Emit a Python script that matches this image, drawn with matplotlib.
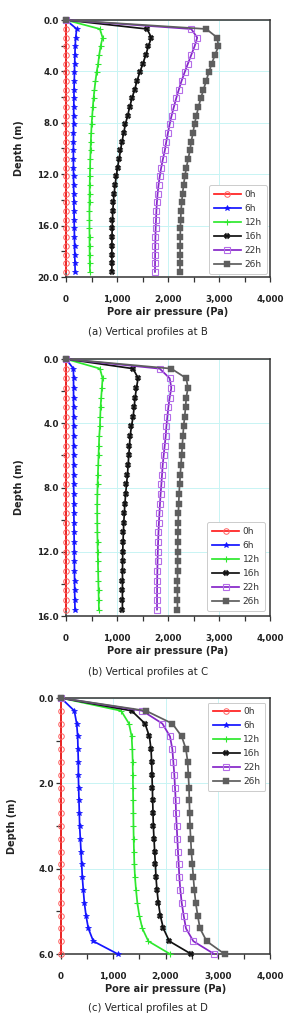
import matplotlib
matplotlib.use("Agg")
import matplotlib.pyplot as plt
from matplotlib.ticker import MultipleLocator, FuncFormatter

plt.rcParams['font.family'] = ['DejaVu Sans']

labels = ["0h", "6h", "12h", "16h", "22h", "26h"]
colors = ["#ff1e1e", "#1414ff", "#2ee82e", "#111111", "#8526c8", "#5e5e5e"]

# ---------- Panel (a): profiles at B ----------
depth_b = [0, 0.7, 1.37, 2.05, 2.72, 3.4, 4.07, 4.75, 5.42, 6.1, 6.77, 7.45, 8.12, 8.8, 9.47,
           10.15, 10.82, 11.5, 12.17, 12.85, 13.52, 14.2, 14.87, 15.55, 16.22, 16.9, 17.57,
           18.25, 18.92, 19.6]
b_0h = [0] * 30
b_6h = [0, 210, 190, 180, 175, 170, 166, 162, 158, 155, 152, 150, 148, 147, 146, 145, 145, 146,
        148, 150, 152, 155, 158, 160, 163, 166, 169, 172, 175, 180]
b_12h = [0, 665, 717, 678, 651, 630, 600, 578, 558, 540, 526, 514, 502, 494, 487, 481, 476, 472,
         468, 465, 463, 461, 460, 460, 460, 461, 462, 464, 466, 470]
b_16h = [0, 1590, 1674, 1616, 1563, 1508, 1446, 1392, 1345, 1293, 1248, 1208, 1165, 1130, 1098,
         1068, 1040, 1010, 985, 962, 943, 928, 918, 910, 905, 902, 900, 900, 900, 900]
b_22h = [0, 2456, 2573, 2521, 2456, 2390, 2326, 2265, 2212, 2160, 2115, 2070, 2032, 1998, 1966,
         1938, 1900, 1866, 1838, 1814, 1796, 1782, 1772, 1765, 1758, 1753, 1750, 1748, 1746, 1745]
b_26h = [0, 2750, 2964, 2990, 2920, 2858, 2800, 2748, 2695, 2643, 2598, 2555, 2520, 2488, 2456,
         2430, 2395, 2360, 2330, 2305, 2285, 2268, 2256, 2248, 2243, 2240, 2238, 2237, 2236, 2235]

# ---------- Panel (b): profiles at C ----------
depth_c = [0, 0.6, 1.2, 1.8, 2.4, 3.0, 3.6, 4.2, 4.8, 5.4, 6.0, 6.6, 7.2, 7.8, 8.4, 9.0, 9.6,
           10.2, 10.8, 11.4, 12.0, 12.6, 13.2, 13.8, 14.4, 15.0, 15.6]
c_0h = [0] * 27
c_6h = [0, 145, 148, 148, 148, 148, 148, 148, 148, 148, 148, 148, 149, 150, 152, 153, 155, 156,
        158, 160, 162, 164, 166, 168, 170, 173, 176]
c_12h = [0, 665, 717, 704, 690, 678, 671, 665, 652, 645, 638, 632, 625, 619, 615, 612, 612, 613,
         615, 618, 622, 626, 630, 634, 638, 642, 645]
c_16h = [0, 1316, 1414, 1381, 1355, 1336, 1316, 1283, 1257, 1244, 1231, 1218, 1205, 1186, 1170,
         1155, 1143, 1133, 1125, 1118, 1113, 1110, 1108, 1107, 1106, 1106, 1106]
c_22h = [0, 1837, 2033, 2065, 2033, 2007, 1987, 1968, 1955, 1935, 1915, 1896, 1883, 1870, 1855,
         1843, 1832, 1822, 1813, 1806, 1800, 1795, 1791, 1788, 1786, 1785, 1785]
c_26h = [0, 2065, 2358, 2391, 2358, 2345, 2326, 2306, 2293, 2280, 2267, 2254, 2241, 2228, 2218,
         2210, 2204, 2199, 2195, 2192, 2190, 2188, 2187, 2186, 2185, 2185, 2185]

# ---------- Panel (c): profiles at D ----------
depth_d = [0, 0.3, 0.6, 0.9, 1.2, 1.5, 1.8, 2.1, 2.4, 2.7, 3.0, 3.3, 3.6, 3.9, 4.2, 4.5, 4.8,
           5.1, 5.4, 5.7, 6.0]
d_0h = [0] * 21
d_6h = [0, 255, 300, 319, 325, 332, 332, 338, 344, 351, 357, 370, 383, 396, 408, 427, 447, 479,
        523, 619, 1085]
d_12h = [0, 1150, 1301, 1352, 1365, 1372, 1375, 1378, 1381, 1384, 1387, 1391, 1397, 1404, 1416,
         1436, 1461, 1499, 1557, 1672, 2086]
d_16h = [0, 1352, 1608, 1691, 1723, 1735, 1742, 1748, 1755, 1761, 1767, 1780, 1793, 1806, 1818,
         1837, 1863, 1901, 1959, 2074, 2490]
d_22h = [0, 1557, 1940, 2086, 2131, 2150, 2169, 2182, 2195, 2201, 2214, 2227, 2239, 2252, 2265,
         2284, 2310, 2348, 2392, 2533, 2930]
d_26h = [0, 1627, 2131, 2310, 2392, 2424, 2437, 2450, 2456, 2463, 2469, 2482, 2495, 2514, 2533,
         2552, 2578, 2616, 2660, 2788, 3130]

xticks = [0, 1000, 2000, 3000, 4000]
captions = ["(a) Vertical profiles at B", "(b) Vertical profiles at C", "(c) Vertical profiles at D"]

styles = [
    dict(marker='o', ms=4.0, mfc='none', mec='#ff6060', mew=0.7),
    dict(marker='*', ms=4.4, mfc=colors[1], mec=colors[1], mew=0.5),
    dict(marker='+', ms=4.4, mfc=colors[2], mec=colors[2], mew=0.8),
    dict(marker='X', ms=4.0, mfc=colors[3], mec=colors[3], mew=0.3),
    dict(marker='s', ms=4.0, mfc='none', mec='#b56ee8', mew=0.8),
    dict(marker='s', ms=3.8, mfc=colors[5], mec=colors[5], mew=0.3),
]

fig = plt.figure(figsize=(2.87, 10.21), dpi=100)
W, H = 287.0, 1021.0

panels = [
    dict(rect=[66 / W, 1 - 277 / H, 204 / W, 257 / H], depth=depth_b,
         series=[b_0h, b_6h, b_12h, b_16h, b_22h, b_26h], ymax=20, ymaj=4, ymin=2,
         loc='lower right', bap=0.35, cap_y=332, ylab_x=-0.23),
    dict(rect=[66 / W, 1 - 616 / H, 204 / W, 257 / H], depth=depth_c,
         series=[c_0h, c_6h, c_12h, c_16h, c_22h, c_26h], ymax=16, ymaj=4, ymin=2,
         loc='lower right', bap=0.55, cap_y=672, ylab_x=-0.23),
    dict(rect=[61 / W, 1 - 954 / H, 209 / W, 256 / H], depth=depth_d,
         series=[d_0h, d_6h, d_12h, d_16h, d_22h, d_26h], ymax=6, ymaj=2, ymin=1,
         loc='upper right', bap=0.5, cap_y=1008, ylab_x=-0.234),
]

bold = dict(family='DejaVu Sans', weight='bold')

for i, p in enumerate(panels):
    ax = fig.add_axes(p['rect'])
    for s, lab, col, st in zip(p['series'], labels, colors, styles):
        ax.plot(s, p['depth'], color=col, lw=1.25, label=lab, clip_on=False, zorder=3, **st)
    ax.set_xlim(0, 4000)
    ax.set_ylim(p['ymax'], 0)
    ax.set_xticks(xticks)
    ax.xaxis.set_minor_locator(MultipleLocator(500))
    ax.yaxis.set_major_locator(MultipleLocator(p['ymaj']))
    ax.yaxis.set_minor_locator(MultipleLocator(p['ymin']))
    ax.xaxis.set_major_formatter(FuncFormatter(lambda v, pos: f"{int(v):,}"))
    ax.yaxis.set_major_formatter(FuncFormatter(lambda v, pos: f"{v:.1f}"))
    ax.grid(True, which='major', color='#c8f4f4', lw=0.7, zorder=0)
    ax.set_axisbelow(True)
    for sp in ax.spines.values():
        sp.set_color('#333333')
        sp.set_linewidth(1.1)
    ax.tick_params(axis='x', which='both', direction='out', length=3.8, width=0.9,
                   color='#333333', pad=9.5)
    ax.tick_params(axis='y', which='both', direction='out', length=3.5, width=0.9,
                   color='#333333', pad=1.5)
    for t in ax.get_xticklabels() + ax.get_yticklabels():
        t.set_fontproperties(matplotlib.font_manager.FontProperties(**bold, size=6.3))
        t.set_color('#222222')
    ax.set_xlabel("Pore air pressure (Pa)", fontsize=7, fontweight='bold', color='#222222')
    ax.xaxis.set_label_coords(0.5, -0.137)
    ax.xaxis.label.set_va('center')
    ax.set_ylabel("Depth (m)", fontsize=7, fontweight='bold', color='#222222')
    ax.yaxis.set_label_coords(p['ylab_x'], 0.5)
    ax.yaxis.label.set_va('center')
    leg = ax.legend(loc=p['loc'], fontsize=6.5, handlelength=3.0, handletextpad=0.4,
                    labelspacing=0.55, borderpad=0.55, borderaxespad=p['bap'],
                    numpoints=1, frameon=True, fancybox=True, framealpha=1)
    leg.get_frame().set_edgecolor('#cccccc')
    leg.get_frame().set_linewidth(0.7)
    for t in leg.get_texts():
        t.set_color('#333333')
    fig.text(148 / W, 1 - p['cap_y'] / H, captions[i], ha='center', va='center',
             fontsize=7.3, color='#222222')

fig.savefig("out.png", dpi=100)
